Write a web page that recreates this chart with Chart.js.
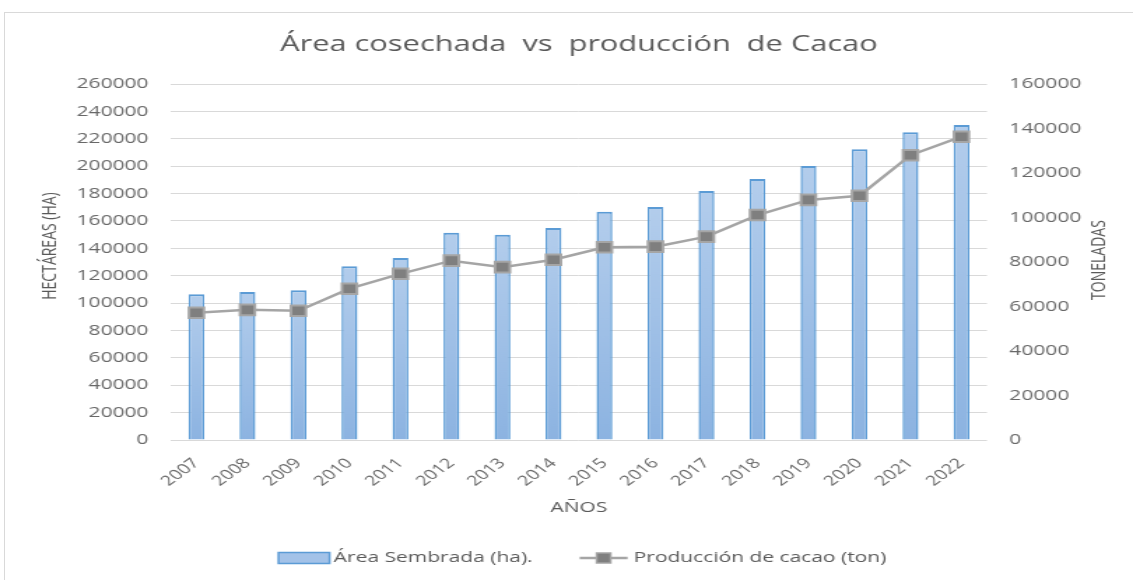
<!DOCTYPE html>
<html>
<head>
<meta charset="utf-8">
<script src="https://cdn.jsdelivr.net/npm/chart.js@4.4.1/dist/chart.umd.min.js"></script>
<style>
  html, body { margin: 0; padding: 0; background: #fff; }
  #wrap { position: relative; width: 1133px; height: 580px; overflow: hidden; }
  #frame { position: absolute; left: 4px; top: 12px; width: 1200px; height: 700px; border: 1px solid #d9d9d9; }
  /* the original picture is an Excel chart stretched sideways, so the canvas is too */
  #chart { position: absolute; left: 0; top: 0; transform: scaleX(1.39877); transform-origin: 0 0; }
</style>
</head>
<body>
<div id="wrap">
  <div id="frame"></div>
  <canvas id="chart" width="810" height="580"></canvas>
</div>
<script>
const years = ['2007', '2008', '2009', '2010', '2011', '2012', '2013', '2014',
  '2015', '2016', '2017', '2018', '2019', '2020', '2021', '2022']
// hectáreas (eje izquierdo)
const areaSembrada = [106400, 108100, 109300, 126900, 132900, 151400, 149900, 154800,
  166700, 170200, 181800, 190600, 200100, 212300, 224700, 230100]
// toneladas (eje derecho)
const produccion = [57200, 58500, 58100, 68000, 74700, 80600, 77700, 81000,
  86600, 86900, 91400, 101100, 107900, 109800, 128000, 136300]
const areaTicks = [0, 20000, 40000, 60000, 80000, 100000, 120000, 140000,
  160000, 180000, 200000, 220000, 240000, 260000]
const tonTicks = [0, 20000, 40000, 60000, 80000, 100000, 120000, 140000, 160000]

const chartTitle = 'Área cosechada  vs  producción  de Cacao'
const leftTitle = 'HECTÁREAS (HA)'
const rightTitle = 'TONELADAS'
const xTitle = 'AÑOS'

const textGray = '#595959'
const tickGray = '#686868'
const family = '"Open Sans", sans-serif'

const barFill = (c) => {
  const chart = c.chart
  if (!chart.chartArea || c.type !== 'data') return '#9dc3e6'
  const y = chart.scales.y
  const top = y.getPixelForValue(c.raw)
  const bottom = y.getPixelForValue(0)
  const g = chart.ctx.createLinearGradient(0, top, 0, bottom)
  g.addColorStop(0, '#b3cdec')
  g.addColorStop(1, '#8cb3e1')
  return g
}

// axis titles and legend, drawn by hand so they sit where Excel put them
const extras = {
  id: 'extras',
  afterDraw(chart) {
    const ctx = chart.ctx
    const area = chart.chartArea
    ctx.save()
    ctx.fillStyle = textGray
    ctx.font = '14px ' + family
    ctx.textAlign = 'center'
    ctx.textBaseline = 'middle'

    ctx.save()
    ctx.translate(36.5, 246)
    ctx.rotate(-Math.PI / 2)
    ctx.fillText(leftTitle, 0, 0)
    ctx.restore()

    ctx.save()
    ctx.translate(786, 260)
    ctx.rotate(-Math.PI / 2)
    ctx.fillText(rightTitle, 0, 0)
    ctx.restore()

    ctx.font = '15px ' + family
    ctx.fillText(xTitle, (area.left + area.right) / 2, 508)

    // legend
    const bars = chart.data.datasets[1]
    const line = chart.data.datasets[0]
    ctx.font = '15px ' + family
    ctx.textAlign = 'left'
    const w1 = ctx.measureText(bars.label).width
    const w2 = ctx.measureText(line.label).width
    const boxW = 36.5, symW = 34.3, gap = 33.6
    const total = boxW + 3 + w1 + gap + symW + 4.3 + w2
    let x = (area.left + area.right) / 2 + 2.5 - total / 2
    const yMid = 558

    ctx.fillStyle = '#a3c2e8'
    ctx.strokeStyle = '#5b9bd5'
    ctx.lineWidth = 1.5
    ctx.fillRect(x, yMid - 5.5, boxW, 11)
    ctx.strokeRect(x, yMid - 5.5, boxW, 11)
    x += boxW + 3
    ctx.fillStyle = textGray
    ctx.fillText(bars.label, x, yMid)
    x += w1 + gap

    ctx.strokeStyle = '#a5a5a5'
    ctx.lineWidth = 2.5
    ctx.beginPath()
    ctx.moveTo(x, yMid)
    ctx.lineTo(x + symW, yMid)
    ctx.stroke()
    ctx.fillStyle = '#7f7f7f'
    ctx.lineWidth = 1.5
    ctx.fillRect(x + symW / 2 - 5, yMid - 5, 10, 10)
    ctx.strokeRect(x + symW / 2 - 5, yMid - 5, 10, 10)
    x += symW + 4.3
    ctx.fillStyle = textGray
    ctx.fillText(line.label, x, yMid)
    ctx.restore()
  }
}

new Chart(document.getElementById('chart'), {
  type: 'bar',
  data: {
    labels: years,
    datasets: [
      {
        type: 'line',
        label: 'Producción de cacao (ton)',
        data: produccion,
        yAxisID: 'y1',
        order: 0,
        borderColor: '#a5a5a5',
        borderWidth: 2.5,
        pointStyle: 'rect',
        pointRadius: 7.5,
        pointBackgroundColor: '#7f7f7f',
        pointBorderColor: '#a5a5a5',
        pointBorderWidth: 2,
        tension: 0
      },
      {
        label: 'Área Sembrada (ha).',
        data: areaSembrada,
        yAxisID: 'y',
        order: 1,
        backgroundColor: barFill,
        borderColor: '#5b9bd5',
        borderWidth: { top: 2, left: 1.5, right: 1.5, bottom: 1.5 },
        categoryPercentage: 1,
        barPercentage: 0.31
      }
    ]
  },
  plugins: [extras],
  options: {
    responsive: false,
    devicePixelRatio: 1,
    animation: false,
    layout: { padding: { top: 0, bottom: 40, left: 0, right: 0 } },
    scales: {
      x: {
        grid: { display: false },
        border: { display: false },
        ticks: { color: tickGray, font: { family, size: 14 }, minRotation: 45, maxRotation: 45, padding: 7 },
        afterFit: (s) => { s.height = 100 }
      },
      y: {
        position: 'left',
        min: 0,
        max: 260000,
        afterBuildTicks: (s) => { s.ticks = areaTicks.map(v => ({ value: v })) },
        grid: { color: '#d9d9d9', lineWidth: 1, drawTicks: false },
        border: { display: false },
        ticks: { color: tickGray, font: { family, size: 15 }, padding: 16, callback: (v) => String(v) },
        afterFit: (s) => { s.width = 122.2 }
      },
      y1: {
        position: 'right',
        min: 0,
        max: 160000,
        afterBuildTicks: (s) => { s.ticks = tonTicks.map(v => ({ value: v })) },
        grid: { display: false, drawTicks: false },
        border: { display: false },
        ticks: { color: tickGray, font: { family, size: 15 }, padding: 16, callback: (v) => String(v) },
        afterFit: (s) => { s.width = 104.4 }
      }
    },
    plugins: {
      title: {
        display: true,
        text: chartTitle,
        fullSize: false,
        color: textGray,
        font: { family, size: 22, weight: 'normal' },
        padding: { top: 31.8, bottom: 25.8 }
      },
      legend: { display: false },
      tooltip: { enabled: false }
    }
  }
})
</script>
</body>
</html>
